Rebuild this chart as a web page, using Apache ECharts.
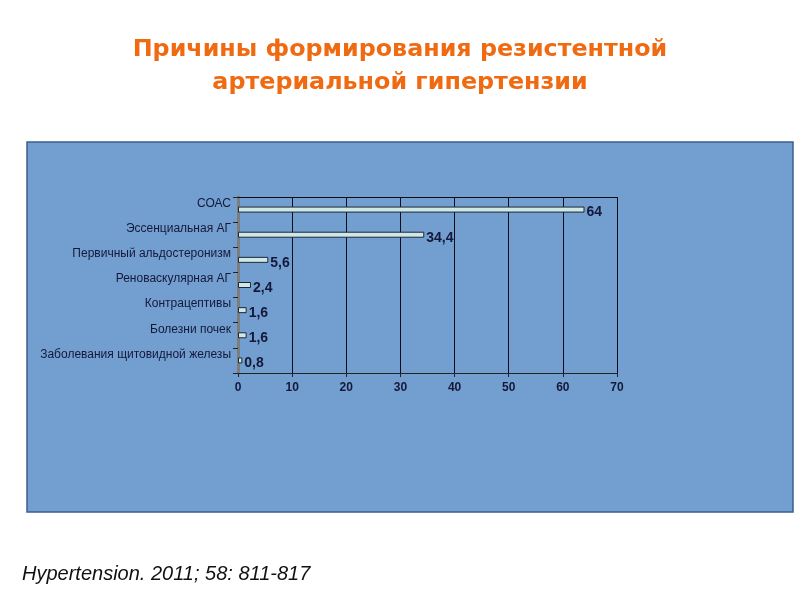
<!DOCTYPE html>
<html>
<head>
<meta charset="utf-8">
<script src="https://cdn.jsdelivr.net/npm/echarts@6/dist/echarts.min.js"></script>
<style>
  html, body { margin: 0; padding: 0; background: #fff; }
  #chart { width: 800px; height: 600px; }
</style>
</head>
<body>
<div id="chart"></div>
<script>
// data, top to bottom
const causes = [
    'СОАС',
    'Эссенциальная АГ',
    'Первичный альдостеронизм',
    'Реноваскулярная АГ',
    'Контрацептивы',
    'Болезни почек',
    'Заболевания щитовидной железы'
];
const percents = [64, 34.4, 5.6, 2.4, 1.6, 1.6, 0.8];
const xTicks = [0, 10, 20, 30, 40, 50, 60, 70];

const chart = echarts.init(document.getElementById('chart'));
const ink = '#15183a';

const option = {
    animation: false,
    title: [
        {
            text: 'Причины формирования резистентной\nартериальной гипертензии',
            left: 'center',
            top: 28,
            textStyle: {
                fontFamily: 'DejaVu Sans',
                fontSize: 23.8,
                fontWeight: 'bold',
                color: '#f06a12',
                lineHeight: 33,
                align: 'center'
            }
        },
        {
            text: 'Hypertension. 2011; 58: 811-817',
            left: 17,
            top: 559,
            textStyle: {
                fontFamily: 'Liberation Sans',
                fontSize: 20,
                fontStyle: 'italic',
                fontWeight: 'normal',
                color: '#111'
            }
        }
    ],
    graphic: [
        {
            type: 'rect',
            z: -10,
            shape: { x: 27, y: 142, width: 766, height: 370 },
            style: { fill: '#729fcf', stroke: '#3b5f8c', lineWidth: 1.5 }
        }
    ],
    grid: { left: 238, right: 183, top: 197, bottom: 227, containLabel: false },
    xAxis: [
        {
            type: 'value',
            min: 0,
            max: 70,
            interval: 10,
            axisLine: { show: true, lineStyle: { color: '#222', width: 1 } },
            axisTick: { show: true, length: 4, lineStyle: { color: '#222' } },
            splitLine: { show: true, lineStyle: { color: '#0d0d1a', width: 1 } },
            axisLabel: {
                margin: 9,
                color: ink,
                fontFamily: 'Liberation Sans',
                fontSize: 12,
                fontWeight: 'bold',
                formatter: v => xTicks.includes(v) ? String(v) : ''
            }
        },
        {
            type: 'value',
            position: 'top',
            min: 0,
            max: 70,
            axisLine: { show: true, lineStyle: { color: '#0d0d1a', width: 1 } },
            axisTick: { show: false },
            axisLabel: { show: false },
            splitLine: { show: false }
        }
    ],
    yAxis: {
        type: 'category',
        data: causes,
        inverse: true,
        axisLine: { show: true, lineStyle: { color: '#7d7d7d', width: 3 } },
        axisTick: { show: true, length: 5, lineStyle: { color: '#222' } },
        axisLabel: {
            margin: 7,
            color: ink,
            fontFamily: 'Liberation Sans',
            fontSize: 12,
            verticalAlign: 'bottom'
        }
    },
    series: [
        {
            type: 'bar',
            data: percents,
            barWidth: 6,
            itemStyle: {
                color: '#cfe7e5',
                borderColor: '#1b2838',
                borderWidth: 1
            },
            label: {
                show: true,
                position: 'right',
                distance: 2,
                offset: [0, 3],
                color: ink,
                fontFamily: 'Liberation Sans',
                fontSize: 14,
                fontWeight: 'bold',
                formatter: p => String(p.value).replace('.', ',')
            }
        }
    ]
};

chart.setOption(option);
</script>
</body>
</html>
